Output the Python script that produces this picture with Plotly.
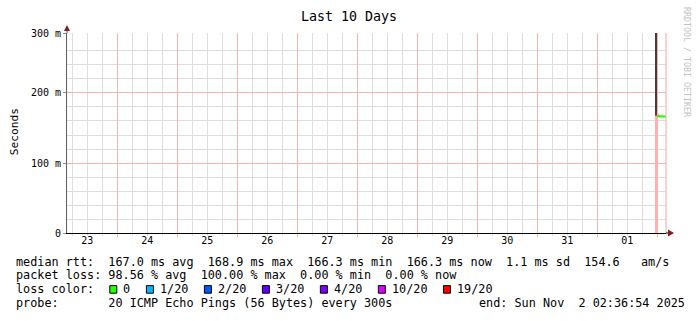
import plotly.graph_objects as go
import pandas as pd

# ---------------- data ----------------
TITLE = "Last 10 Days"
Y_TITLE = "Seconds"
WATERMARK = "RRDTOOL / TOBI OETIKER"

X_START = "2025-10-23 03:53"
X_END = "2025-11-02 03:29"
FIRST_MIDNIGHT = "2025-10-24 00:00"
FIRST_NOON = "2025-10-23 12:00"

Y_TOP = 285.7
y_tick_values = [0, 100, 200, Y_TOP]
y_tick_labels = ["0", "100 m", "200 m", "300 m"]
y_minor_values = [20, 40, 60, 80, 120, 140, 160, 180, 220, 240, 260]

# median rtt steps: start time, value (ms), lost pings out of 20
rtt_start = ["2025-11-01 23:05", "2025-11-01 23:50", "2025-11-02 00:15",
             "2025-11-02 00:40", "2025-11-02 01:05", "2025-11-02 01:30",
             "2025-11-02 01:55", "2025-11-02 02:20", "2025-11-02 02:45",
             "2025-11-02 03:10"]
rtt_last_end = "2025-11-02 03:29"
rtt_ms = [168.9, 166.9, 167.0, 166.8, 166.5, 166.6, 166.4, 166.3, 166.3, 166.3]
rtt_loss = [19, 0, 0, 0, 0, 0, 0, 0, 0, 0]

# smoke (ping spread) blocks
smoke_start = ["2025-11-01 23:05", "2025-11-01 23:46"]
smoke_end = ["2025-11-01 23:46", "2025-11-02 00:50"]
smoke_low = [168.9, 166.6]
smoke_high = [300.0, 171.5]

# loss bar
loss_start = ["2025-11-01 23:05"]
loss_end = ["2025-11-02 00:10"]
loss_top = [168.9]

# loss colour legend
loss_labels = ["0", "1/20", "2/20", "3/20", "4/20", "10/20", "19/20"]
loss_thresholds = [0, 1, 2, 3, 4, 10, 19]
loss_colors = ["#26ff00", "#00b8ff", "#0059ff", "#5e00ff", "#7e00ff", "#dd00ff", "#ff0000"]

stat_rtt = "median rtt:  167.0 ms avg  168.9 ms max  166.3 ms min  166.3 ms now  1.1 ms sd  154.6   am/s"
stat_loss = "packet loss: 98.56 % avg  100.00 % max  0.00 % min  0.00 % now"
loss_head = "loss color:"
probe_text = "probe:       20 ICMP Echo Pings (56 Bytes) every 300s"
end_text = "end: Sun Nov  2 02:36:54 2025"

# ---------------- layout constants ----------------
W, H = 697, 321
L, R, T, B = 67, 31, 33, 88
PW, PH = W - L - R, H - T - B
MONO = "DejaVu Sans Mono"
MAJOR = "#f4b4b4"
MINOR = "#dedede"
CW = 7.12
LEG_FS = 11.8


def px(x):
    return (x - L) / PW


def py(y):
    return (H - B - y) / PH


def nb(s):
    return s.replace(" ", "\u00a0")


def color_for(loss):
    c = loss_colors[0]
    for th, col in zip(loss_thresholds, loss_colors):
        if loss >= th:
            c = col
    return c


fig = go.Figure()

# loss bar
ls = pd.to_datetime(loss_start)
le = pd.to_datetime(loss_end)
fig.add_trace(go.Bar(
    x=ls + (le - ls) / 2, y=loss_top, base=[0] * len(loss_top),
    width=[(b - a).total_seconds() * 1000 for a, b in zip(ls, le)],
    marker=dict(color="#ffb0b0", line=dict(width=0)), showlegend=False,
    hoverinfo="skip"))

# smoke
ss = pd.to_datetime(smoke_start)
se = pd.to_datetime(smoke_end)
smoke_cols = ["#404040", "#d4d4d4"]
for i in range(len(smoke_start)):
    fig.add_trace(go.Bar(
        x=[ss[i] + (se[i] - ss[i]) / 2], y=[smoke_high[i] - smoke_low[i]],
        base=[smoke_low[i]], width=[(se[i] - ss[i]).total_seconds() * 1000],
        marker=dict(color=smoke_cols[i], line=dict(width=0)),
        showlegend=False, hoverinfo="skip"))

# median line, split in runs of same colour
ends = rtt_start[1:] + [rtt_last_end]
runs = []
for i, (s, e, v, lo) in enumerate(zip(rtt_start, ends, rtt_ms, rtt_loss)):
    c = color_for(lo)
    if runs and runs[-1]["c"] == c:
        runs[-1]["x"].append(s)
        runs[-1]["y"].append(v)
        runs[-1]["e"] = e
    else:
        runs.append(dict(c=c, x=[s], y=[v], e=e))
for r in runs:
    fig.add_trace(go.Scatter(
        x=r["x"] + [r["e"]], y=r["y"] + [r["y"][-1]], mode="lines",
        line=dict(color=r["c"], width=2, shape="hv"), xaxis="x2",
        showlegend=False, hoverinfo="skip"))

fig.update_layout(
    width=W, height=H, margin=dict(l=L, r=R, t=T, b=B, pad=0),
    paper_bgcolor="white", plot_bgcolor="white", barmode="overlay",
    bargap=0, showlegend=False,
    font=dict(family=MONO, size=10, color="black"),
    xaxis=dict(
        type="date", range=[X_START, X_END], tick0=FIRST_MIDNIGHT,
        dtick=86400000, showticklabels=False, showgrid=True,
        gridcolor=MAJOR, gridwidth=1, ticks="outside", ticklen=3,
        tickcolor=MAJOR, showline=True, linecolor="black", linewidth=1,
        zeroline=False,
        minor=dict(dtick=6 * 3600000, tick0=FIRST_MIDNIGHT, showgrid=True,
                   gridcolor=MINOR, ticks="outside", ticklen=2,
                   tickcolor=MINOR),
        layer="below traces"),
    xaxis2=dict(
        type="date", range=[X_START, X_END], overlaying="x", anchor="y",
        side="bottom", tick0=FIRST_NOON, dtick=86400000, tickformat="%d",
        showgrid=False, ticks="", showline=False, zeroline=False,
        tickfont=dict(family=MONO, size=10, color="black")),
    yaxis=dict(
        range=[0, Y_TOP], tickvals=y_tick_values, ticktext=y_tick_labels,
        showgrid=True, gridcolor=MAJOR, ticks="outside", ticklen=3,
        tickcolor="#909090", showline=True, linecolor="#606060",
        linewidth=1, zeroline=False,
        tickfont=dict(family=MONO, size=10, color="black"),
        minor=dict(tickvals=y_minor_values, showgrid=True, gridcolor=MINOR),
        layer="below traces"),
)

shapes = []
# right frame line
shapes.append(dict(type="line", xref="paper", yref="paper", x0=1, x1=1,
                   y0=0, y1=1, line=dict(color="#f4a8a8", width=1)))
# axis extensions & arrows
shapes.append(dict(type="line", xref="paper", yref="paper", x0=1, x1=px(669),
                   y0=0, y1=0, line=dict(color="black", width=1)))
shapes.append(dict(type="path", xref="paper", yref="paper", xsizemode="pixel",
                   ysizemode="pixel", xanchor=1, yanchor=0,
                   path="M 2,-3.5 L 8,0 L 2,3.5 Z", fillcolor="#7f1f1f",
                   line=dict(width=0)))
shapes.append(dict(type="line", xref="paper", yref="paper", x0=0, x1=0,
                   y0=1, y1=py(30), line=dict(color="#606060", width=1)))
shapes.append(dict(type="path", xref="paper", yref="paper", xsizemode="pixel",
                   ysizemode="pixel", xanchor=0, yanchor=1,
                   path="M -3,2 L 3,2 L 0,8 Z", fillcolor="#7f1f1f",
                   line=dict(width=0)))

ann = []
ann.append(dict(text=TITLE, x=px(348.5), y=py(16), xref="paper", yref="paper",
                showarrow=False, xanchor="center", yanchor="middle",
                font=dict(family=MONO, size=13.3, color="black")))
ann.append(dict(text=Y_TITLE, x=px(14.7), y=py(131.5), xref="paper",
                yref="paper", showarrow=False, textangle=-90,
                xanchor="center", yanchor="middle",
                font=dict(family=MONO, size=11.2, color="black")))
ann.append(dict(text=WATERMARK, x=px(687), y=py(62), xref="paper",
                yref="paper", showarrow=False, textangle=90,
                xanchor="center", yanchor="middle",
                font=dict(family=MONO, size=8.3, color="#c4c4c4")))

X0 = 14.7
rows_y = [261.6, 275.4, 289.4, 303.4]


def text_at(s, x, y):
    ann.append(dict(text=nb(s), x=px(x), y=py(y), xref="paper", yref="paper",
                    showarrow=False, xanchor="left", yanchor="middle",
                    borderpad=0,
                    font=dict(family=MONO, size=LEG_FS, color="black")))


text_at(stat_rtt, X0, rows_y[0])
text_at(stat_loss, X0, rows_y[1])
text_at(loss_head, X0, rows_y[2])
text_at(probe_text, X0, rows_y[3])
text_at(end_text, X0 + 65 * CW, rows_y[3])

bx = 109.3
for lab, col in zip(loss_labels, loss_colors):
    shapes.append(dict(type="rect", xref="paper", yref="paper",
                       x0=px(bx + 0.5), x1=px(bx + 7.5),
                       y0=py(rows_y[2] + 3.8), y1=py(rows_y[2] - 3.8),
                       fillcolor=col, line=dict(color="black", width=1)))
    lx = bx + 13.0
    text_at(lab, lx, rows_y[2])
    bx = lx + len(lab) * CW + 16.5

fig.update_layout(shapes=shapes, annotations=ann)
fig.write_html("out.html")
